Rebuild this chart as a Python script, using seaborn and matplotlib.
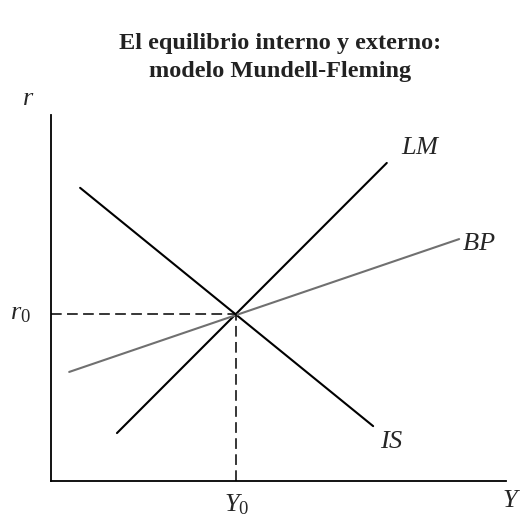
import pandas as pd
import seaborn as sns
import matplotlib.pyplot as plt

# end points of each curve (data units, 0-100 on both axes)
curves = ["LM", "LM", "IS", "IS", "BP", "BP"]
x_vals = [14.5, 73.8, 6.4, 70.8, 4.0, 89.7]
y_vals = [13.1, 86.9, 80.1, 15.0, 29.8, 66.1]

# equilibrium point
y0 = 40.7
r0 = 45.6

df = pd.DataFrame({"curva": curves, "Y": x_vals, "r": y_vals})

sns.set_style("white")
plt.rcParams["font.family"] = ["Liberation Serif", "DejaVu Serif"]
plt.rcParams["mathtext.fontset"] = "custom"
plt.rcParams["mathtext.rm"] = "Liberation Serif"
plt.rcParams["mathtext.it"] = "Liberation Serif:italic"

fig = plt.figure(figsize=(5.23, 5.18), dpi=100)
ax = fig.add_axes([0.0975, 0.0714, 0.87, 0.7066])

sns.lineplot(data=df, x="Y", y="r", hue="curva",
             palette={"LM": "black", "IS": "black", "BP": "#707070"},
             linewidth=1.5, legend=False, ax=ax)

# dashed guides to the equilibrium
ax.plot([0, y0], [r0, r0], color="black", lw=1.1, dashes=(7, 3.5))
ax.plot([y0, y0], [0, r0], color="black", lw=1.1, dashes=(7, 3.5))

ax.set_xlim(0, 100)
ax.set_ylim(0, 100)
ax.set_xticks([])
ax.set_yticks([])
ax.set_xlabel("")
ax.set_ylabel("")
sns.despine(ax=ax)
for s in ["left", "bottom"]:
    ax.spines[s].set_color("black")
    ax.spines[s].set_linewidth(1.3)

lab = dict(fontsize=19, ha="center", va="center", clip_on=False)
ax.text(81.3, 91.0, "$LM$", **lab)
ax.text(94.0, 64.8, "$BP$", **lab)
ax.text(75.0, 10.7, "$IS$", **lab)
ax.text(101.2, -5.4, "$Y$", **lab)
ax.text(y0, -6.6, "$Y_0$", **lab)
ax.text(-6.8, r0, "$r_0$", **lab)
ax.text(-5.1, 104.5, "$r$", **lab)

fig.text(0.535, 0.889, "El equilibrio interno y externo:\nmodelo Mundell-Fleming",
         ha="center", va="center", fontsize=17.5, fontweight="bold",
         color="#222222", linespacing=1.38)

fig.savefig("out.png", dpi=100)
